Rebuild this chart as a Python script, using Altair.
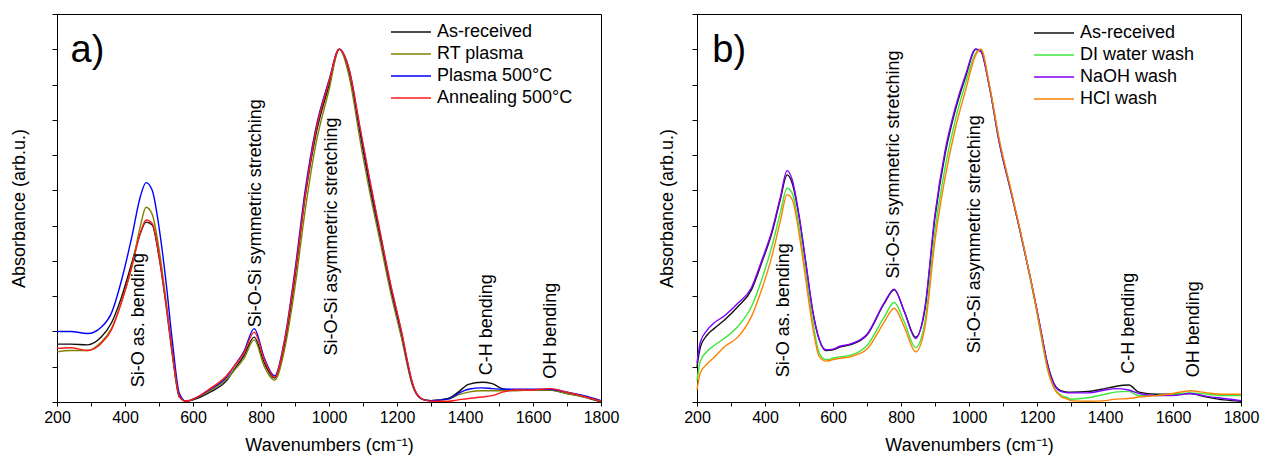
import altair as alt
import pandas as pd

FONT = "Liberation Sans"

# ---------------- panel a) ----------------
X_A = [200, 240, 290, 330, 360, 390, 420, 445, 462, 480,
       500, 520, 540, 560, 580, 600, 650, 700, 720, 750,
       780, 810, 840, 870, 900, 930, 960, 1000, 1030, 1060,
       1090, 1120, 1150, 1180, 1200, 1215, 1230, 1245, 1260, 1280,
       1300, 1350, 1380, 1410, 1450, 1480, 1510, 1550, 1600, 1650,
       1700, 1750, 1800]
AS_RECEIVED_A = [0.82, 0.82, 0.81, 0.92, 1.12, 1.49, 1.97, 2.39, 2.55, 2.51,
                 2.06, 1.40, 0.64, 0.07, 0.01, 0.03, 0.14, 0.31, 0.45, 0.66,
                 0.92, 0.55, 0.34, 0.83, 1.77, 2.91, 3.76, 4.49, 5.00, 4.66,
                 3.85, 3.05, 2.34, 1.63, 1.21, 0.90, 0.55, 0.25, 0.10, 0.03,
                 0.02, 0.05, 0.14, 0.25, 0.28, 0.26, 0.19, 0.17, 0.17, 0.17,
                 0.12, 0.07, 0.00]
RT_PLASMA_A = [0.71, 0.73, 0.73, 0.85, 1.04, 1.42, 1.92, 2.49, 2.76, 2.66,
               2.17, 1.46, 0.68, 0.08, 0.01, 0.04, 0.16, 0.33, 0.44, 0.62,
               0.88, 0.50, 0.31, 0.76, 1.63, 2.72, 3.62, 4.42, 5.00, 4.60,
               3.75, 2.97, 2.28, 1.58, 1.17, 0.87, 0.53, 0.24, 0.09, 0.03,
               0.02, 0.04, 0.10, 0.14, 0.16, 0.16, 0.16, 0.16, 0.17, 0.17,
               0.12, 0.07, 0.01]
PLASMA_500_A = [1.00, 1.00, 0.97, 1.06, 1.26, 1.73, 2.34, 2.91, 3.11, 3.00,
                2.48, 1.73, 0.83, 0.12, 0.01, 0.04, 0.18, 0.36, 0.50, 0.72,
                1.04, 0.62, 0.37, 0.90, 1.87, 3.00, 3.85, 4.56, 5.00, 4.70,
                3.90, 3.12, 2.40, 1.68, 1.26, 0.95, 0.58, 0.27, 0.10, 0.03,
                0.02, 0.04, 0.12, 0.18, 0.20, 0.19, 0.18, 0.18, 0.18, 0.18,
                0.14, 0.09, 0.02]
ANNEAL_500_A = [0.76, 0.77, 0.73, 0.83, 1.02, 1.42, 1.92, 2.39, 2.58, 2.53,
                2.08, 1.42, 0.68, 0.08, 0.01, 0.04, 0.19, 0.38, 0.50, 0.70,
                0.99, 0.60, 0.35, 0.88, 1.82, 2.93, 3.81, 4.54, 5.00, 4.70,
                3.93, 3.15, 2.42, 1.70, 1.28, 0.96, 0.60, 0.28, 0.10, 0.03,
                0.01, 0.01, 0.03, 0.05, 0.07, 0.09, 0.14, 0.17, 0.17, 0.19,
                0.14, 0.08, 0.01]
NAMES_A = ["As-received", "RT plasma", "Plasma 500°C", "Annealing 500°C"]
COLORS_A = ["#111111", "#808000", "#0000ff", "#ff1a1a"]

NOTE_TEXT = ["Si-O as. bending", "Si-O-Si symmetric stretching",
             "Si-O-Si asymmetric stretching", "C-H bending", "OH bending"]
NOTE_X_A = [441, 786, 1010, 1466, 1652]
NOTE_Y_A = [0.21, 1.06, 0.66, 0.38, 0.33]

# ---------------- panel b) ----------------
X_B = [200, 210, 230, 250, 280, 320, 360, 390, 420, 445,
       465, 480, 500, 520, 540, 560, 580, 600, 620, 650,
       700, 750, 780, 810, 843, 870, 900, 930, 960, 990,
       1020, 1035, 1060, 1090, 1120, 1150, 1180, 1200, 1215, 1230,
       1250, 1270, 1290, 1300, 1350, 1400, 1430, 1470, 1500, 1550,
       1600, 1650, 1700, 1750, 1800]
AS_RECEIVED_B = [0.50, 0.78, 0.95, 1.04, 1.16, 1.35, 1.59, 1.97, 2.39, 2.87,
                 3.22, 3.10, 2.63, 1.97, 1.30, 0.88, 0.73, 0.74, 0.78, 0.81,
                 0.95, 1.39, 1.59, 1.28, 0.92, 1.30, 2.62, 3.52, 4.14, 4.61,
                 5.00, 4.97, 4.47, 3.66, 3.05, 2.43, 1.77, 1.30, 0.92, 0.56,
                 0.26, 0.16, 0.14, 0.14, 0.15, 0.19, 0.22, 0.24, 0.14, 0.11,
                 0.11, 0.12, 0.07, 0.03, 0.01]
DI_WATER_B = [0.30, 0.58, 0.72, 0.80, 0.90, 1.07, 1.35, 1.73, 2.20, 2.68,
              3.03, 2.96, 2.49, 1.82, 1.16, 0.69, 0.60, 0.62, 0.64, 0.66,
              0.80, 1.20, 1.41, 1.13, 0.77, 1.12, 2.43, 3.33, 4.00, 4.52,
              4.95, 5.00, 4.47, 3.66, 3.05, 2.43, 1.75, 1.26, 0.86, 0.48,
              0.20, 0.10, 0.06, 0.04, 0.06, 0.11, 0.14, 0.15, 0.09, 0.09,
              0.11, 0.13, 0.11, 0.09, 0.09]
NAOH_B = [0.55, 0.85, 1.02, 1.12, 1.22, 1.40, 1.62, 2.00, 2.42, 2.90,
          3.28, 3.15, 2.65, 1.98, 1.30, 0.88, 0.74, 0.75, 0.79, 0.82,
          0.96, 1.40, 1.60, 1.28, 0.90, 1.33, 2.66, 3.57, 4.18, 4.64,
          5.00, 4.97, 4.47, 3.66, 3.05, 2.43, 1.77, 1.30, 0.92, 0.55,
          0.25, 0.15, 0.13, 0.13, 0.13, 0.17, 0.19, 0.17, 0.12, 0.09,
          0.09, 0.12, 0.08, 0.05, 0.02]
HCL_B = [0.17, 0.42, 0.54, 0.63, 0.78, 0.92, 1.21, 1.59, 2.06, 2.56,
         2.94, 2.87, 2.39, 1.73, 1.07, 0.64, 0.58, 0.60, 0.62, 0.64,
         0.75, 1.13, 1.33, 1.06, 0.71, 1.05, 2.29, 3.19, 3.88, 4.42,
         4.92, 5.00, 4.50, 3.70, 3.08, 2.45, 1.77, 1.28, 0.88, 0.50,
         0.20, 0.08, 0.04, 0.02, 0.01, 0.02, 0.04, 0.05, 0.07, 0.09,
         0.12, 0.16, 0.13, 0.11, 0.11]
NAMES_B = ["As-received", "DI water wash", "NaOH wash", "HCl wash"]
COLORS_B = ["#111111", "#3ce83c", "#8000ff", "#ff8000"]

NOTE_X_B = [455, 779, 1019, 1471, 1661]
NOTE_Y_B = [0.35, 1.75, 0.69, 0.40, 0.35]

LETTERS = ["a)", "b)"]
LETTER_X = [240, 245]
LETTER_Y = [4.82, 4.82]


def long_frame(xs, names, columns):
    rows = []
    for name, col in zip(names, columns):
        for xv, yv in zip(xs, col):
            rows.append({"x": xv, "y": yv, "series": name})
    return pd.DataFrame(rows)


def panel(df, names, colors, notes, letter, legend_x, legend_y, ytitle_pad):
    xenc = alt.X(
        "x:Q",
        scale=alt.Scale(domain=[200, 1800], nice=False, zero=False),
        axis=alt.Axis(
            values=list(range(200, 1801, 100)),
            format="d",
            labelExpr="datum.value % 200 === 0 ? datum.label : ''",
            labelFlush=False,
            labelOverlap=False,
            title="Wavenumbers (cm⁻¹)",
            tickSize=4,
            labelPadding=3,
            titlePadding=11,
        ),
    )
    yenc = alt.Y(
        "y:Q",
        scale=alt.Scale(domain=[0, 5.5], nice=False, zero=False),
        axis=alt.Axis(
            values=[v / 2 for v in range(0, 12)],
            labels=False,
            title="Absorbance (arb.u.)",
            tickSize=5,
            titlePadding=ytitle_pad,
        ),
    )
    lines = alt.Chart(df).mark_line(strokeWidth=1.4, interpolate="monotone").encode(
        x=xenc,
        y=yenc,
        color=alt.Color(
            "series:N",
            scale=alt.Scale(domain=names, range=colors),
            sort=names,
            legend=alt.Legend(
                title=None,
                orient="none",
                legendX=legend_x,
                legendY=legend_y,
                symbolType="M-2,0L2,0",
                symbolSize=400,
                symbolStrokeWidth=1.5,
                labelOffset=15,
                rowPadding=2,
                padding=0,
                labelFontSize=18,
                labelFont=FONT,
                labelColor="#000000",
            ),
        ),
    )
    text = alt.Chart(notes).mark_text(
        angle=270, align="left", baseline="middle", fontSize=18, font=FONT, color="#000000"
    ).encode(x=xenc, y=yenc, text="label:N")
    let = alt.Chart(letter).mark_text(
        align="left", baseline="alphabetic", fontSize=38, font=FONT, color="#000000"
    ).encode(x=xenc, y=yenc, text="label:N")
    return alt.layer(lines, text, let).properties(width=544, height=388)


df_a = long_frame(X_A, NAMES_A, [AS_RECEIVED_A, RT_PLASMA_A, PLASMA_500_A, ANNEAL_500_A])
df_b = long_frame(X_B, NAMES_B, [AS_RECEIVED_B, DI_WATER_B, NAOH_B, HCL_B])
notes_a = pd.DataFrame({"x": NOTE_X_A, "y": NOTE_Y_A, "label": NOTE_TEXT})
notes_b = pd.DataFrame({"x": NOTE_X_B, "y": NOTE_Y_B, "label": NOTE_TEXT})
letter_a = pd.DataFrame({"x": [LETTER_X[0]], "y": [LETTER_Y[0]], "label": [LETTERS[0]]})
letter_b = pd.DataFrame({"x": [LETTER_X[1]], "y": [LETTER_Y[1]], "label": [LETTERS[1]]})

left = panel(df_a, NAMES_A, COLORS_A, notes_a, letter_a, 343, 7, 23)
right = panel(df_b, NAMES_B, COLORS_B, notes_b, letter_b, 346, 8, 15)

chart = (
    alt.hconcat(left, right, spacing=38)
    .resolve_scale(color="independent")
    .properties(padding={"left": 2, "top": 5, "right": 0, "bottom": 0}, background="#ffffff")
    .configure_view(stroke="#000000", strokeWidth=1)
    .configure_axis(
        labelFont=FONT,
        titleFont=FONT,
        labelFontSize=16,
        titleFontSize=18,
        titleFontWeight="normal",
        labelColor="#000000",
        titleColor="#000000",
        domainColor="#000000",
        tickColor="#000000",
        grid=False,
    )
)

chart.save("out.html", embed_options={"renderer": "svg", "actions": False})
